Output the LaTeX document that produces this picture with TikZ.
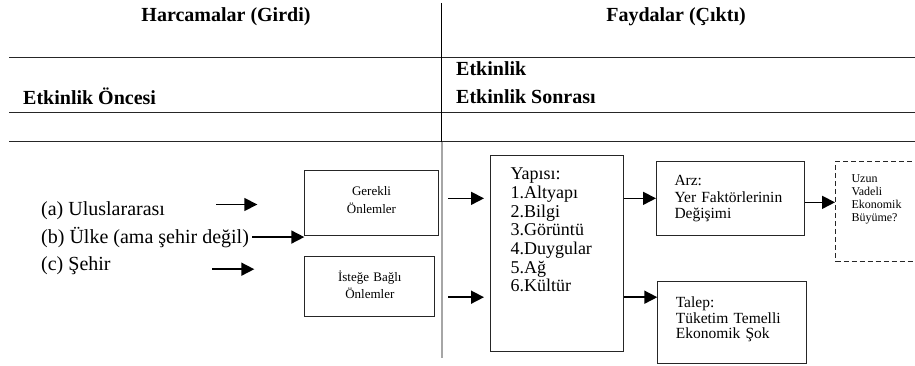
\documentclass[tikz,border=0pt]{standalone}
\usepackage{fontspec}
\setmainfont{Liberation Serif}
\usetikzlibrary{arrows.meta,positioning}

\tikzset{
  cizgi/.style={line width=1pt, draw=black!85},
  kutu/.style={draw=black!85, line width=1pt, anchor=north west, inner ysep=0pt},
  ok/.style={-{Triangle[length=13pt,width=13pt]}, line width=1.6pt},
  baslik/.style={font=\fontsize{20}{24}\selectfont\bfseries, inner sep=0pt},
  etiket/.style={font=\fontsize{20}{24}\selectfont, inner sep=0pt, anchor=base west},
}

\begin{document}
\begin{tikzpicture}[x=1pt, y=-1pt]
    \useasboundingbox (0,0) rectangle (915,366);
    \clip (0,0) rectangle (915,366);

    % tablo cizgileri
    \foreach \y in {57.3,112.7,141.7}
        \draw[cizgi] (9,\y) -- (915,\y);
    \draw[line width=1.2pt] (441.7,3) -- (441.7,141.7);
    \draw[gray!70, line width=1.6pt] (441.7,141.7) -- (441.7,358);

    % basliklar
    \node[baslik, anchor=base] (girdi) at (226,22) {Harcamalar (Girdi)};
    \node[baslik, anchor=base] (cikti) at (676,22) {Faydalar (Çıktı)};
    \node[baslik, anchor=base west] (once) at (23,105) {Etkinlik Öncesi};
    \node[baslik, anchor=base west] (etkinlik) at (456,76) {Etkinlik};
    \node[baslik, anchor=base west] (sonra) at (456,104) {Etkinlik Sonrası};

    % sol taraf
    \node[etiket] (ulus) at (41,215) {(a) Uluslararası};
    \node[etiket] (ulke) at (41,243) {(b) Ülke (ama şehir değil)};
    \node[etiket] (sehir) at (41,270) {(c) Şehir};

    \node[kutu, font=\fontsize{13}{17.6}\selectfont, align=center, inner xsep=4pt,
          text width=125.4pt, text height=25pt, text depth=40pt] (gerekli) at (304.3,170)
          {Gerekli\\Önlemler};
    \node[kutu, font=\fontsize{13}{17.6}\selectfont, align=center, inner xsep=4pt,
          text width=122pt, text height=25pt, text depth=35pt] (istege) at (304.3,255.7)
          {İsteğe Bağlı\\Önlemler};

    % sag taraf
    \node[kutu, font=\fontsize{18}{18.6}\selectfont, align=left, inner xsep=20pt,
          text width=92.7pt, text height=24.5pt, text depth=171pt] (yapi) at (490,155)
          {Yapısı:\\1.Altyapı\\2.Bilgi\\3.Görüntü\\4.Duygular\\5.Ağ\\6.Kültür};
    \node[kutu, font=\fontsize{15.5}{16.7}\selectfont, align=left, inner xsep=18pt,
          text width=112pt, text height=24.3pt, text depth=50pt] (arz) at (656,160.7)
          {Arz:\\Yer Faktörlerinin\\Değişimi};
    \node[kutu, font=\fontsize{15.5}{15.8}\selectfont, align=left, inner xsep=18pt,
          text width=112.4pt, text height=26pt, text depth=56pt] (talep) at (657.3,280.7)
          {Talep:\\Tüketim Temelli\\Ekonomik Şok};
    \node[kutu, dash pattern=on 5pt off 3pt, font=\fontsize{12}{12.8}\selectfont, align=left,
          inner xsep=16pt, text width=60pt, text height=21.6pt, text depth=78.7pt] (uzun) at (835,160.7)
          {Uzun\\Vadeli\\Ekonomik\\Büyüme?};

    % oklar
    \coordinate (okA) at ([yshift=-1.5pt]gerekli.west);
    \coordinate (okC) at ([yshift=17pt]istege.west);
    \draw[ok] ([xshift=-88pt]okA) -- ([xshift=-47pt]okA);
    \draw[ok] ([xshift=3pt]ulke.east) -- (ulke.east -| gerekli.west);
    \draw[ok] ([xshift=-92pt]okC) -- ([xshift=-50pt]okC);

    \coordinate (okD) at (yapi.west |- arz.west);
    \coordinate (okE) at ([yshift=25pt]talep.west);
    \coordinate (okF) at (okE -| yapi.west);
    \draw[ok] ([xshift=-42pt]okD) -- ([xshift=-6pt]okD);
    \draw[ok] ([xshift=-42pt]okF) -- ([xshift=-6pt]okF);
    \draw[ok] (arz.west -| yapi.east) -- (arz.west);
    \draw[ok] (okE -| yapi.east) -- (okE);

    \coordinate (okG) at ([yshift=-4pt]arz.east);
    \draw[ok] (okG) -- (okG -| uzun.west);
\end{tikzpicture}
\end{document}
